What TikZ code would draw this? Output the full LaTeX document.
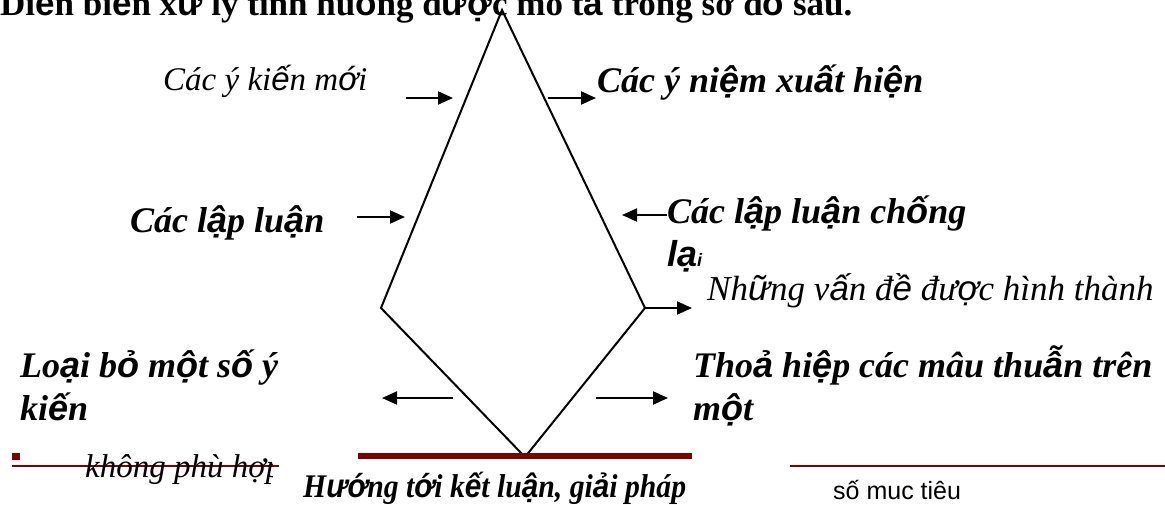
\documentclass[tikz,border=0pt]{standalone}
\usepackage{fontspec}
\setmainfont{Liberation Serif}
\setsansfont{Liberation Sans}
\usetikzlibrary{arrows.meta}
\definecolor{darkred}{RGB}{128,0,0}
% glyphs the slide font lacks fall back to a sans face
\newcommand\vn[1]{\textsf{#1}}

\tikzset{
  arr/.style={-{Triangle[length=15pt,width=13pt]}, line width=2pt},
  lbl/.style={anchor=base west, inner sep=0pt, font=\fontsize{36}{40}\selectfont\itshape},
  blbl/.style={lbl, font=\fontsize{36}{40}\selectfont\bfseries\itshape},
}

\begin{document}
\begin{tikzpicture}[x=1pt, y=-1pt]
    \useasboundingbox (0,0) rectangle (1165,504);

    % Heading (cut off at the top)
    \node[anchor=base west, inner sep=0pt, font=\fontsize{35}{40}\selectfont\bfseries] (title) at (0,15)
        {Di\vn{ễ}n bi\vn{ế}n x\vn{ử} lý tình hu\vn{ố}ng đ\vn{ượ}c mô t\vn{ả} trong sơ đ\vn{ồ} sau.};

    % Kite
    \coordinate (top) at (502,10);
    \coordinate (lft) at (381,308);
    \coordinate (bot) at (525,457);
    \coordinate (rgt) at (645,308);
    \draw[line width=2pt] (top) -- (lft) -- (bot) -- (rgt) -- cycle;

    % Arrow ends
    \coordinate (ykS) at (406,98);  \coordinate (ykE) at (453,98);
    \coordinate (ynS) at (548,98);  \coordinate (ynE) at (596,98);
    \coordinate (llS) at (357,217); \coordinate (llE) at (405,217);
    \coordinate (lcS) at (667,215); \coordinate (lcE) at (622,215);
    \coordinate (vdE) at (692,308);
    \coordinate (lbS) at (453,398); \coordinate (lbE) at (382,398);
    \coordinate (thS) at (596,398); \coordinate (thE) at (668,398);

    \draw[arr] (ykS) -- (ykE);
    \draw[arr] (ynS) -- (ynE);
    \draw[arr] (llS) -- (llE);
    \draw[arr] (lcS) -- (lcE);
    \draw[arr] (rgt) -- (vdE);
    \draw[arr] (lbS) -- (lbE);
    \draw[arr] (thS) -- (thE);

    % Labels
    \node[lbl, font=\fontsize{33}{40}\selectfont\itshape] (ykien) at (163,90) {Các ý ki\vn{ế}n m\vn{ớ}i};
    \node[blbl] (yniem) at (597,92) {Các ý ni\vn{ệ}m xu\vn{ấ}t hi\vn{ệ}n};
    \node[blbl] (lapluan) at (130,232) {Các l\vn{ậ}p lu\vn{ậ}n};
    \node[blbl] (chong) at (667,223) {Các l\vn{ậ}p lu\vn{ậ}n ch\vn{ố}ng};
    \node[blbl] (chong2) at ([yshift=-43pt]chong.base west) {\vn{lạ}{\fontsize{18}{20}\selectfont\vn{i}}};
    \node[lbl, font=\fontsize{35}{40}\selectfont\itshape] (vande) at (707,300) {Nh\vn{ữ}ng v\vn{ấ}n đ\vn{ề} đư\vn{ợ}c hình thành};
    \node[blbl] (loai) at (20,377) {Lo\vn{ạ}i b\vn{ỏ} m\vn{ộ}t s\vn{ố} ý};
    \node[blbl] (loai2) at ([yshift=-43pt]loai.base west) {ki\vn{ế}n};
    \node[blbl] (thoa) at (693,377) {Tho\vn{ả} hi\vn{ệ}p các mâu thu\vn{ẫ}n trên};
    \node[blbl] (thoa2) at ([yshift=-43pt]thoa.base west) {m\vn{ộ}t};

    % Bottom bar and leftovers of the slide
    \draw[darkred, line width=6pt] (358,456) -- (692,456);
    \fill[darkred] (12,453) rectangle (20,460);
    \draw[darkred, line width=1.2pt] (12,466) -- (279,466);
    \draw[darkred, line width=1.2pt] (790,466) -- (1165,466);
    \begin{scope}
        \clip (0,430) rectangle (272,504);
        \node[lbl, font=\fontsize{33}{40}\selectfont\itshape] (khong) at (85,477) {không phù hợp};
    \end{scope}
    \node[blbl, font=\fontsize{33}{40}\selectfont\bfseries\itshape] (huong) at (303,497)
        {\scalebox{0.9}[1]{H\vn{ướ}ng t\vn{ớ}i k\vn{ế}t lu\vn{ậ}n, gi\vn{ả}i pháp}};
    \node[anchor=base west, inner sep=0pt, font=\sffamily\fontsize{25}{30}\selectfont] (muctieu) at (833,499) {số muc tiêu};
\end{tikzpicture}
\end{document}
